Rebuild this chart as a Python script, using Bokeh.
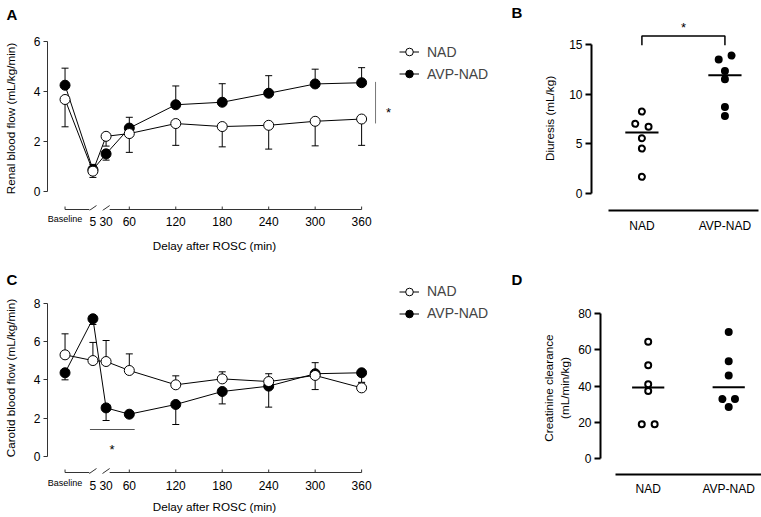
import numpy as np
from bokeh.plotting import figure
from bokeh.layouts import row, column
from bokeh.models import Range1d, FixedTicker, Legend, LegendItem, LinearAxis, Title
from bokeh.core.properties import value
from bokeh.embed import file_html
from bokeh.resources import INLINE

FONT = "Liberation Sans"

# ---------------- data ----------------
time_labels = ["Baseline", "5", "30", "60", "120", "180", "240", "300", "360"]
time_axis_pos = [-23, 13, 30, 60, 120, 180, 240, 300, 360]   # broken-axis coordinate of each time point

# Panel A: renal blood flow (mL/kg/min)
rbf_nad = [3.68, 0.82, 2.21, 2.32, 2.72, 2.60, 2.65, 2.81, 2.90]
rbf_nad_err_up = [0, 0, 0, 0, 0, 0, 0, 0, 0]
rbf_nad_err_dn = [1.09, 0.25, 0.39, 0.75, 0.87, 0.81, 0.95, 0.98, 1.05]
rbf_avp = [4.25, 0.88, 1.51, 2.54, 3.47, 3.57, 3.93, 4.30, 4.35]
rbf_avp_err_up = [0.68, 0.21, 0, 0.43, 0.75, 0.74, 0.70, 0.59, 0.60]
rbf_avp_err_dn = [0, 0, 0.25, 0, 0, 0, 0, 0, 0]

# Panel C: carotid blood flow (mL/kg/min)
cbf_nad = [5.31, 5.01, 4.96, 4.49, 3.74, 4.05, 3.91, 4.23, 3.58]
cbf_nad_err_up = [1.10, 0.95, 1.10, 0.87, 0.47, 0.37, 0.41, 0.67, 0.25]
cbf_nad_err_dn = [0, 0, 0, 0, 0, 0, 0, 0, 0]
cbf_avp = [4.37, 7.20, 2.53, 2.20, 2.71, 3.39, 3.67, 4.32, 4.37]
cbf_avp_err_up = [0, 0, 0, 0, 0, 0, 0, 0, 0]
cbf_avp_err_dn = [0.37, 0.30, 0.66, 0.16, 1.05, 0.65, 1.10, 0.83, 0.50]

# Panels B and D: individual animals
groups = ["NAD", "AVP-NAD"]
diuresis_nad = [8.27, 7.03, 6.73, 5.57, 4.53, 1.67]
diuresis_avp = [13.93, 13.53, 12.37, 11.53, 8.73, 7.83]
diuresis_nad_jitter = [0, -0.08, 0.08, 0, 0, 0]
diuresis_avp_jitter = [0.08, -0.075, 0, 0, 0, 0]
clcr_nad = [64.3, 51.4, 41.0, 37.3, 19.0, 19.0]
clcr_avp = [69.7, 53.6, 45.8, 32.8, 32.8, 28.4]
clcr_nad_jitter = [0, 0, 0, 0, -0.08, 0.08]
clcr_avp_jitter = [0, 0, 0, -0.078, 0.078, 0]

# ---------------- geometry (page px) ----------------
XK = 0.779      # px per minute on the time axis
X60 = 127.3     # page x of t=60
SPLIT = 381     # time-course figure ends here, legend strip begins
RIGHT = 761
ROW1 = dict(top=0, height=258, ftop=24, fbot=210)
ROW2 = dict(top=258, height=259, ftop=281, fbot=474)


def x_of(px):
    return 60 + (px - X60) / XK


def ymap(y0px, yk):
    return lambda px: (y0px - px) / yk


def text_axis_style(ax, size="12px"):
    ax.major_label_text_font = FONT
    ax.major_label_text_color = "black"
    ax.major_label_text_font_size = size
    ax.axis_label_text_font = FONT
    ax.axis_label_text_color = "black"
    ax.axis_label_text_font_style = "normal"
    ax.axis_label_text_font_size = "11.7px"
    ax.minor_tick_line_color = None
    ax.minor_tick_out = 0
    ax.minor_tick_in = 0


def label_axis(ticks, labels, standoff, size):
    ax = LinearAxis(ticker=FixedTicker(ticks=ticks),
                    major_label_overrides={t: l for t, l in zip(ticks, labels)},
                    axis_line_color=None, major_tick_line_color=None,
                    major_tick_out=0, major_tick_in=0, major_label_standoff=standoff)
    text_axis_style(ax, size)
    return ax


def base_fig(width, rw, left, y_of, x_range, **kw):
    p = figure(width=width, height=rw["height"], output_backend="svg", toolbar_location=None,
               x_range=x_range, y_range=Range1d(y_of(rw["fbot"]), y_of(rw["ftop"])),
               min_border_left=left, min_border_right=0,
               min_border_top=rw["ftop"] - rw["top"],
               min_border_bottom=rw["top"] + rw["height"] - rw["fbot"], **kw)
    p.grid.visible = False
    p.outline_line_color = None
    return p


def timecourse(rw, y0px, yk, ymax, yticks, ylabel, nad, nad_up, nad_dn, avp, avp_up, avp_dn,
               line_px, xlabel_standoff):
    y_of = ymap(y0px, yk)
    p = base_fig(SPLIT, rw, 45, y_of, Range1d(x_of(45), x_of(SPLIT)), x_axis_type=None)

    ya = p.yaxis[0]
    ya.bounds = (0, ymax)
    ya.ticker = FixedTicker(ticks=yticks)
    ya.major_tick_out = 4
    ya.major_tick_in = 0
    ya.axis_line_color = "#333333"
    ya.major_tick_line_color = "#333333"
    ya.major_label_standoff = 3
    ya.axis_label = ylabel
    ya.axis_label_standoff = 14
    text_axis_style(ya)

    # inner axis: small "Baseline" label; outer axis: time labels + axis title
    p.add_layout(label_axis([time_axis_pos[0]], [time_labels[0]], 3, "9px"), "below")
    na = label_axis(time_axis_pos[1:], time_labels[1:], -10, "12px")
    na.axis_label = "Delay after ROSC (min)"
    na.axis_label_standoff = xlabel_standoff
    p.add_layout(na, "below")

    # broken time axis line, ticks and break marks
    ay = y_of(line_px)
    gap = 3.6 / XK
    p.segment(x0=[time_axis_pos[0], time_axis_pos[2] + gap], y0=[ay, ay],
              x1=[time_axis_pos[1] - gap, time_axis_pos[-1]], y1=[ay, ay],
              line_color="#333333", line_width=1)
    tick_x = [time_axis_pos[0]] + time_axis_pos[3:]
    p.segment(x0=tick_x, y0=[ay] * len(tick_x), x1=tick_x, y1=[y_of(line_px - 3)] * len(tick_x),
              line_color="#333333", line_width=1)
    sx = time_axis_pos[1:3]
    p.segment(x0=[s - gap for s in sx], y0=[y_of(line_px + 1)] * 2,
              x1=[s + gap for s in sx], y1=[y_of(line_px - 4)] * 2,
              line_color="#333333", line_width=1)

    # error bars
    for vals, up, dn in ((avp, avp_up, avp_dn), (nad, nad_up, nad_dn)):
        for errs, sign in ((up, 1), (dn, -1)):
            xs = [x for x, e in zip(time_axis_pos, errs) if e > 0]
            ys = [val for val, e in zip(vals, errs) if e > 0]
            ye = [val + sign * e for val, e in zip(vals, errs) if e > 0]
            if xs:
                p.segment(x0=xs, y0=ys, x1=xs, y1=ye, line_color="black", line_width=1)
                p.scatter(x=xs, y=ye, marker="dash", size=7, line_color="black", line_width=1)

    p.line(time_axis_pos, avp, line_color="black", line_width=1)
    p.line(time_axis_pos, nad, line_color="black", line_width=1)
    p.scatter(time_axis_pos, avp, marker="circle", size=10, fill_color="black",
              line_color="black", line_width=1)
    p.scatter(time_axis_pos, nad, marker="circle", size=10, fill_color="white",
              line_color="black", line_width=1)
    return p, y_of


def letter_title(p, letter, standoff):
    p.add_layout(Title(text=letter, align="left", offset=-41, vertical_align="top",
                       standoff=standoff, text_font=FONT, text_font_size="15px",
                       text_font_style="bold", text_color="black"), "above")


def legend_strip(rw, y0px, yk, nad, avp, legend_top, letter, letter_standoff):
    """Right-hand strip of a time-course panel: legend and the next panel's letter."""
    y_of = ymap(y0px, yk)
    p = base_fig(540 - SPLIT, rw, 0, y_of, Range1d(x_of(SPLIT), x_of(540)),
                 x_axis_type=None, y_axis_type=None)
    # same series (left of this strip's x range; they serve as legend glyphs)
    l_avp = p.line(time_axis_pos, avp, line_color="black", line_width=1)
    l_nad = p.line(time_axis_pos, nad, line_color="black", line_width=1)
    s_avp = p.scatter(time_axis_pos, avp, marker="circle", size=10, fill_color="black",
                      line_color="black", line_width=1)
    s_nad = p.scatter(time_axis_pos, nad, marker="circle", size=10, fill_color="white",
                      line_color="black", line_width=1)
    legend = Legend(items=[LegendItem(label="NAD", renderers=[l_nad, s_nad]),
                           LegendItem(label="AVP-NAD", renderers=[l_avp, s_avp])],
                    location=(399 - SPLIT, rw["fbot"] - (legend_top + 41)),
                    glyph_width=20, glyph_height=19, label_height=19, spacing=3,
                    label_standoff=8, padding=0, margin=0,
                    border_line_color=None, background_fill_alpha=0,
                    label_text_font=FONT, label_text_font_size="14px")
    p.add_layout(legend)
    la = label_axis([round(x_of(516.5), 2)], [letter], letter_standoff, "15px")
    la.major_label_text_font_style = "bold"
    p.add_layout(la, "above")
    return p, y_of


def dotplot(rw, frame_left, nad_px, kx, y0px, yk, ymax, yticks, ylabel,
            nad, nad_j, avp, avp_j, label_standoff, ylab_standoff):
    y_of = ymap(y0px, yk)

    def xv(px):
        return (px - nad_px) / kx

    p = base_fig(RIGHT - 540, rw, frame_left - 540, y_of, Range1d(xv(frame_left), xv(RIGHT)))

    ya = p.yaxis[0]
    ya.bounds = (0, ymax)
    ya.ticker = FixedTicker(ticks=yticks)
    ya.major_tick_out = 6
    ya.major_tick_in = 0
    ya.axis_line_color = "black"
    ya.axis_line_width = 2
    ya.major_tick_line_color = "black"
    ya.major_tick_line_width = 2
    ya.major_label_standoff = 3
    if ylabel:
        ya.axis_label = ylabel
        ya.axis_label_standoff = ylab_standoff
    text_axis_style(ya)

    xa = p.xaxis[0]
    xa.ticker = FixedTicker(ticks=[0, 1])
    xa.major_label_overrides = {0: groups[0], 1: groups[1]}
    xa.bounds = (-0.405, 1.405)
    xa.axis_line_color = "black"
    xa.axis_line_width = 2
    xa.major_tick_line_color = None
    xa.major_tick_out = 0
    xa.major_tick_in = 0
    xa.major_label_standoff = label_standoff
    text_axis_style(xa)

    for i, (vals, jit, fill) in enumerate(((nad, nad_j, "white"), (avp, avp_j, "black"))):
        med = float(np.median(vals))
        p.segment(x0=[i - 0.2], y0=[med], x1=[i + 0.2], y1=[med], line_color="black", line_width=2)
        p.scatter([i + j for j in jit], vals, marker="circle", size=6, fill_color=fill,
                  line_color="black", line_width=2)
    return p, y_of


# ---------------- panel A ----------------
pA, yA = timecourse(ROW1, 191, 25.33, 6, [0, 2, 4, 6], "Renal blood flow (mL/kg/min)",
                    rbf_nad, rbf_nad_err_up, rbf_nad_err_dn, rbf_avp, rbf_avp_err_up, rbf_avp_err_dn,
                    209, 10)
letter_title(pA, "A", 4)
pA.segment(x0=[x_of(375)], y0=[yA(80)], x1=[x_of(375)], y1=[yA(122)], line_color="#777777", line_width=1)
pA2, yA2 = legend_strip(ROW1, 191, 25.33, rbf_nad, rbf_avp, 42.2, "B", 6)
pA2.text(x=[x_of(388)], y=[yA2(110.5)], text=["*"], text_font=value(FONT), text_font_size="13px",
         text_align="center", text_baseline="alphabetic")

# ---------------- panel C ----------------
pC, yC = timecourse(ROW2, 455.7, 19.09, 8, [0, 2, 4, 6, 8], "Carotid blood flow (mL/kg/min)",
                    cbf_nad, cbf_nad_err_up, cbf_nad_err_dn, cbf_avp, cbf_avp_err_up, cbf_avp_err_dn,
                    472, 7)
letter_title(pC, "C", -21)
pC.segment(x0=[x_of(87.7)], y0=[yC(429)], x1=[x_of(132.7)], y1=[yC(429)], line_color="#555555", line_width=1)
pC.text(x=[x_of(110)], y=[yC(449)], text=["*"], text_font=value(FONT), text_font_size="13px",
        text_align="center", text_baseline="alphabetic")
pC2, yC2 = legend_strip(ROW2, 455.7, 19.09, cbf_nad, cbf_avp, 281.5, "D", -6)

# ---------------- panel B ----------------
pB, yB = dotplot(ROW1, 589, 640, 84, 192.7, 10, 15, [0, 5, 10, 15], "Diuresis (mL/kg)",
                 diuresis_nad, diuresis_nad_jitter, diuresis_avp, diuresis_avp_jitter, 8, 10)
pB.line(x=[0, 0, 1, 1], y=[yB(43), yB(33.5), yB(33.5), yB(43)], line_color="black", line_width=1.5)
pB.add_layout(label_axis([0.5], ["*"], -8, "13px"), "above")

# ---------------- panel D ----------------
pD, yD = dotplot(ROW2, 599, 647, 81, 458.3, 1.82, 80, [0, 20, 40, 60, 80], None,
                 clcr_nad, clcr_nad_jitter, clcr_avp, clcr_avp_jitter, 7, 4)
# two-line value-axis title, centred on the 0-80 span (page y 387.5)
for txt, width_em, va, so in (("(mL/min/kg)", 5.278, "top", 5),
                              ("Creatinine clearance", 9.17, "middle", 0)):
    pD.add_layout(Title(text=txt, align="left", offset=ROW2["fbot"] - (387.5 + width_em * 11.7 / 2),
                        vertical_align=va, standoff=so, text_font=FONT, text_font_size="11.7px",
                        text_font_style="normal", text_color="black"), "left")

layout = column(row(pA, pA2, pB), row(pC, pC2, pD))
open("out.html", "w").write(file_html(layout, INLINE))
